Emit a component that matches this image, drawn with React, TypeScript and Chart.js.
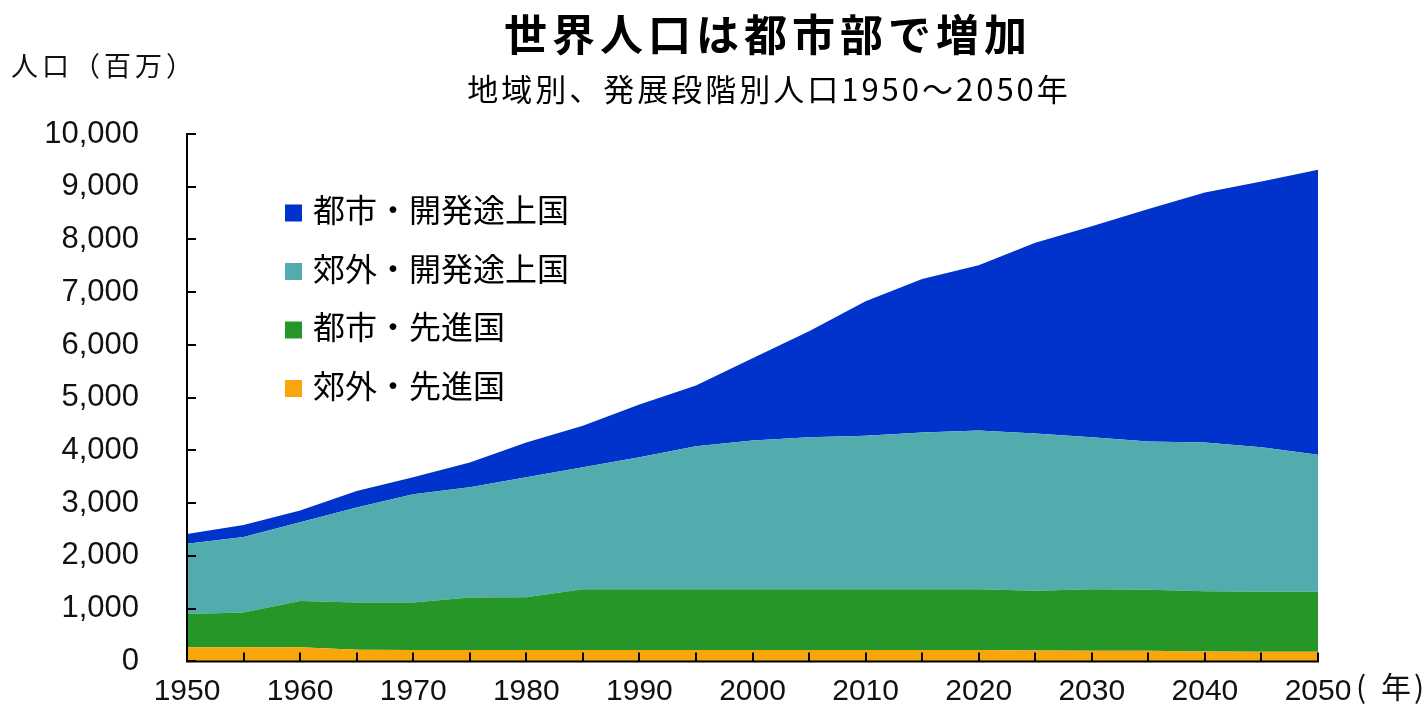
import React, { useEffect, useRef } from 'react';
import { Chart, registerables } from 'chart.js';

Chart.register(...registerables);

// ---- Data (millions of people) ----
const years = ['1950', '1955', '1960', '1965', '1970', '1975', '1980', '1985', '1990', '1995', '2000', '2005', '2010', '2015', '2020', '2025', '2030', '2035', '2040', '2045', '2050'];

const suburbDeveloped = [270, 270, 270, 220, 215, 215, 215, 215, 215, 215, 215, 215, 215, 215, 215, 205, 200, 200, 190, 185, 185];
const urbanDeveloped = [630, 655, 875, 895, 900, 995, 1000, 1155, 1155, 1155, 1155, 1155, 1155, 1155, 1155, 1135, 1170, 1160, 1140, 1135, 1135];
const suburbDeveloping = [1330, 1435, 1495, 1805, 2055, 2090, 2275, 2310, 2500, 2710, 2820, 2880, 2910, 2970, 3010, 2980, 2880, 2810, 2820, 2740, 2600];
const urbanDeveloping = [185, 225, 220, 310, 320, 470, 660, 790, 1000, 1150, 1560, 2010, 2550, 2910, 3130, 3620, 4000, 4410, 4740, 5040, 5400];

const seriesNames = ['郊外・先進国', '都市・先進国', '郊外・開発途上国', '都市・開発途上国'];
const seriesColors = ['#F9A60C', '#269628', '#52ACAE', '#0033CC'];

const titleText = '世界人口は都市部で増加';
const subtitleText = '地域別、発展段階別人口1950～2050年';
const yAxisTitle = '人口（百万）';
const xUnitText = '年';

const CJK = "'Noto Sans CJK JP', 'Noto Sans CJK SC', sans-serif";
const LAT = "'Liberation Sans', Arial, sans-serif";

const decorPlugin = {
  id: 'decor',
  afterDraw(chart: any) {
    const { ctx, chartArea: a, scales } = chart;
    const xs = scales.x;
    const ys = scales.y;
    ctx.save();
    // axes
    ctx.strokeStyle = '#000';
    ctx.lineWidth = 2;
    ctx.lineCap = 'square';
    ctx.beginPath();
    ctx.moveTo(a.left, a.top);
    ctx.lineTo(a.left, a.bottom);
    ctx.lineTo(a.right, a.bottom);
    // x ticks (inside)
    for (let i = 0; i < years.length; i++) {
      const px = Math.round(xs.getPixelForValue(i));
      ctx.moveTo(px, a.bottom);
      ctx.lineTo(px, a.bottom - 8);
    }
    // y ticks (inside)
    for (let v = 0; v <= 10000; v += 1000) {
      const py = Math.round(ys.getPixelForValue(v));
      ctx.moveTo(a.left, py);
      ctx.lineTo(a.left + 8, py);
    }
    ctx.stroke();

    // titles
    ctx.fillStyle = '#000';
    ctx.textBaseline = 'middle';
    ctx.textAlign = 'center';
    ctx.font = `bold 43px ${CJK}`;
    (ctx as any).letterSpacing = '5px';
    ctx.fillText(titleText, 768, 35);
    ctx.font = `31px ${CJK}`;
    (ctx as any).letterSpacing = '3px';
    ctx.fillText(subtitleText, 769, 89);

    // y axis title
    ctx.textAlign = 'left';
    ctx.font = `27px ${CJK}`;
    (ctx as any).letterSpacing = '4px';
    ctx.fillStyle = '#111';
    ctx.fillText(yAxisTitle, 11, 66);
    (ctx as any).letterSpacing = '0px';

    // x unit
    ctx.font = `30px ${CJK}`;
    ctx.fillText('(', 1356, 687);
    ctx.fillText(xUnitText, 1381, 687);
    ctx.fillText(')', 1414, 687);

    // legend (reverse order, inside plot)
    const rowY = [213, 271.5, 330, 388.5];
    ctx.font = `32px ${CJK}`;
    for (let k = 0; k < seriesNames.length; k++) {
      const idx = seriesNames.length - 1 - k;
      const cy = rowY[k];
      ctx.fillStyle = seriesColors[idx];
      ctx.fillRect(285, cy - 8.5, 17, 17);
      ctx.fillStyle = '#000';
      ctx.fillText(seriesNames[idx], 313, cy - 3);
    }
    ctx.restore();
  },
};

export default function App() {
  const canvasRef = useRef<HTMLCanvasElement | null>(null);

  useEffect(() => {
    if (!canvasRef.current) return;
    const seriesData = [suburbDeveloped, urbanDeveloped, suburbDeveloping, urbanDeveloping];
    const chart = new Chart(canvasRef.current, {
      type: 'line',
      data: {
        labels: years,
        datasets: seriesData.map((d, i) => ({
          label: seriesNames[i],
          data: d,
          backgroundColor: seriesColors[i],
          borderColor: seriesColors[i],
          borderWidth: 0,
          pointRadius: 0,
          tension: 0,
          fill: i === 0 ? 'origin' : '-1',
        })),
      },
      options: {
        responsive: false,
        animation: false,
        layout: { padding: { top: 134, right: 106, left: 0, bottom: 0 } },
        plugins: {
          legend: { display: false },
          tooltip: { enabled: false },
        },
        scales: {
          x: {
            type: 'category',
            offset: false,
            grid: { display: false },
            border: { display: false },
            ticks: {
              autoSkip: false,
              maxRotation: 0,
              minRotation: 0,
              padding: 4,
              color: '#111',
              font: { family: LAT, size: 30 },
              callback: (_v: any, i: number) => (i % 2 === 0 ? years[i] : ''),
            },
            afterFit: (s: any) => {
              s.height = 55;
            },
          },
          y: {
            stacked: true,
            min: 0,
            max: 10000,
            grid: { display: false },
            border: { display: false },
            ticks: {
              stepSize: 1000,
              padding: 40,
              color: '#111',
              font: { family: LAT, size: 31 },
              callback: (v: any) => Number(v).toLocaleString('en-US'),
            },
            afterFit: (s: any) => {
              s.width = 187;
            },
          },
        },
      },
      plugins: [decorPlugin],
    });
    return () => chart.destroy();
  }, []);

  return (
    <div style={{ position: 'fixed', left: 0, top: 0, width: 1424, height: 720, background: '#fff' }}>
      <canvas ref={canvasRef} width={1424} height={720} style={{ display: 'block', width: 1424, height: 720 }} />
    </div>
  );
}
